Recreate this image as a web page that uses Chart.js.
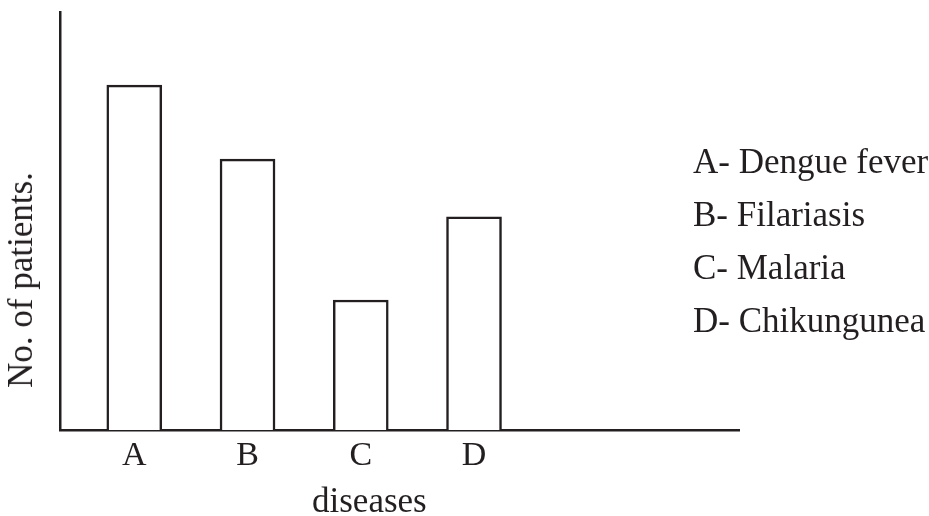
<!DOCTYPE html>
<html>
<head>
<meta charset="utf-8">
<script src="https://cdn.jsdelivr.net/npm/chart.js@4.4.1/dist/chart.umd.min.js"></script>
<style>
  body { margin: 0; background: #fff; }
  #wrap { position: relative; width: 929px; height: 516px; }
  .txt { position: absolute; font-family: "Liberation Serif", "Times New Roman", serif; font-size: 35px; color: #231f20; white-space: nowrap; line-height: 34px; }
  #ytitle { left: 21px; top: 280px; transform: translate(-50%, -50%) rotate(-90deg); }
  #xtitle { left: 312px; top: 484px; }
  #legend { left: 693px; top: 135px; line-height: 53px; }
</style>
</head>
<body>
<div id="wrap">
  <canvas id="myChart" width="929" height="516"></canvas>
  <div class="txt" id="ytitle">No. of patients.</div>
  <div class="txt" id="xtitle">diseases</div>
  <div class="txt" id="legend"></div>
</div>
<script>
const categories = ['A', 'B', 'C', 'D'];
const diseaseNames = ['Dengue fever', 'Filariasis', 'Malaria', 'Chikungunea'];
const patients = [8.25, 6.48, 3.11, 5.10];

const ink = '#231f20';

// legend on the right
const legend = document.getElementById('legend');
for (let i = 0; i < categories.length; i++) {
    let row = document.createElement('div');
    row.textContent = categories[i] + '- ' + diseaseNames[i];
    legend.appendChild(row);
}

let points = [];
for (let i = 0; i < categories.length; i++) {
    points.push({ x: i + 1, y: patients[i] });
}

const ctx = document.getElementById('myChart');

new Chart(ctx, {
    type: 'bar',
    data: {
        datasets: [{
            data: points,
            backgroundColor: '#ffffff',
            borderColor: ink,
            borderWidth: 2.5,
            borderSkipped: 'bottom',
            barThickness: 55
        }]
    },
    options: {
        responsive: false,
        animation: false,
        layout: { padding: { left: 60, top: 12, right: 190, bottom: 0 } },
        plugins: { legend: { display: false }, tooltip: { enabled: false } },
        scales: {
            x: {
                type: 'linear',
                offset: false,
                min: 0.344,
                max: 6.34,
                grid: { display: false, drawTicks: false, offset: false },
                border: { color: ink, width: 2.5 },
                afterBuildTicks: function (scale) {
                    scale.ticks = categories.map((c, i) => ({ value: i + 1 }));
                },
                afterFit: function (scale) { scale.height = 86; },
                ticks: {
                    padding: 6,
                    color: ink,
                    font: { family: '"Liberation Serif", serif', size: 34 },
                    callback: function (value) { return categories[value - 1] || ''; }
                }
            },
            y: {
                min: 0,
                max: 10,
                grid: { display: false, drawTicks: false },
                border: { color: ink, width: 2.5 },
                ticks: { display: false }
            }
        }
    }
});
</script>
</body>
</html>
